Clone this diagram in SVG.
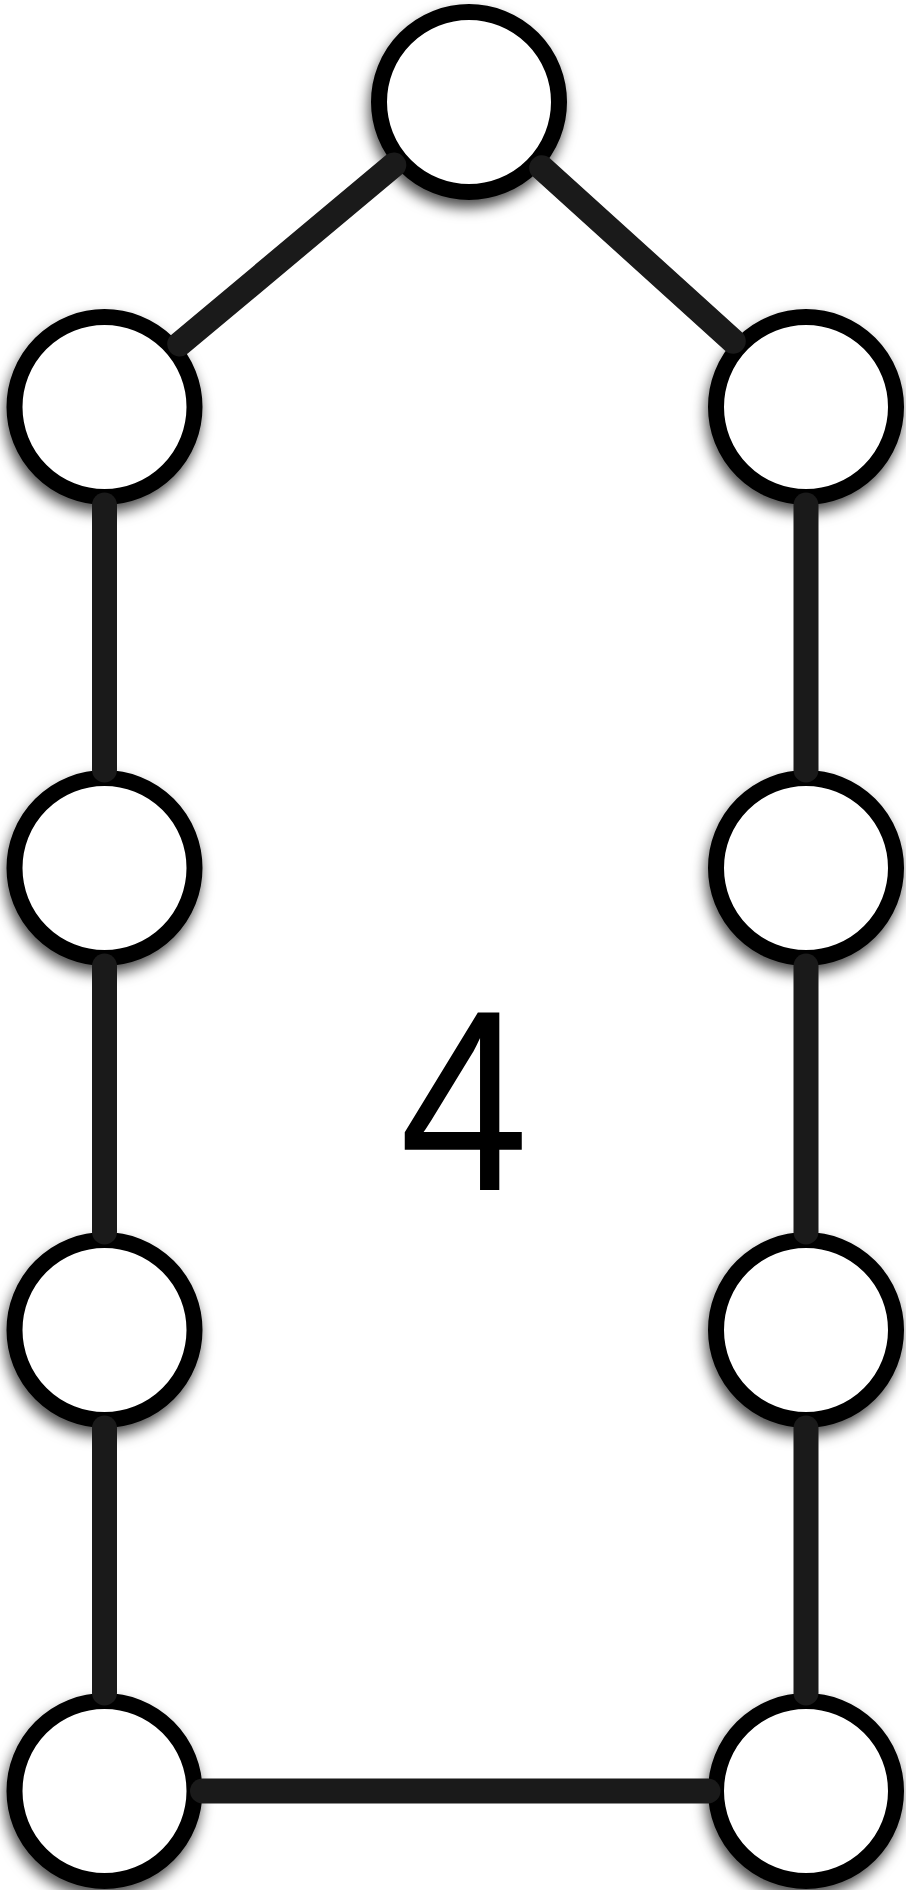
<svg xmlns="http://www.w3.org/2000/svg" width="906" height="1890" viewBox="0 0 906 1890">
<defs>
<filter id="sh" x="-30%" y="-30%" width="160%" height="160%">
<feDropShadow dx="-2" dy="8" stdDeviation="7" flood-color="#000" flood-opacity="0.7"/>
</filter>
<style>
.node{fill:#fff;stroke:#000;stroke-width:16;filter:url(#sh)}
.edge{stroke:#1a1a1a;stroke-width:25;stroke-linecap:round;fill:none}
.lbl{font-family:"Liberation Sans",Arial,sans-serif;font-size:258px;fill:#000}
</style>
</defs>
<rect width="906" height="1890" fill="#fff"/>
<g id="n0"><circle class="node" cx="469" cy="102" r="90"/></g>
<g id="n1"><circle class="node" cx="104.5" cy="407" r="90"/></g>
<g id="n2"><circle class="node" cx="806" cy="407" r="90"/></g>
<g id="n3"><circle class="node" cx="104.5" cy="868" r="90"/></g>
<g id="n4"><circle class="node" cx="806" cy="868" r="90"/></g>
<g id="n5"><circle class="node" cx="104.5" cy="1330" r="90"/></g>
<g id="n6"><circle class="node" cx="806" cy="1330" r="90"/></g>
<g id="n7"><circle class="node" cx="104.5" cy="1791" r="90"/></g>
<g id="n8"><circle class="node" cx="806" cy="1791" r="90"/></g>
<g id="edges">
<line class="edge" x1="393.8" y1="164.9" x2="179.7" y2="344"/>
<line class="edge" x1="541.7" y1="167.8" x2="733.3" y2="341.2"/>
<line class="edge" x1="104.5" y1="505" x2="104.5" y2="770"/>
<line class="edge" x1="104.5" y1="966" x2="104.5" y2="1232"/>
<line class="edge" x1="104.5" y1="1428" x2="104.5" y2="1693"/>
<line class="edge" x1="806" y1="505" x2="806" y2="770"/>
<line class="edge" x1="806" y1="966" x2="806" y2="1232"/>
<line class="edge" x1="806" y1="1428" x2="806" y2="1693"/>
<line class="edge" x1="202.5" y1="1791" x2="708" y2="1791"/>
</g>
<text class="lbl" transform="translate(464,1190) scale(0.9,1)" x="0" y="0" text-anchor="middle">4</text>
</svg>
